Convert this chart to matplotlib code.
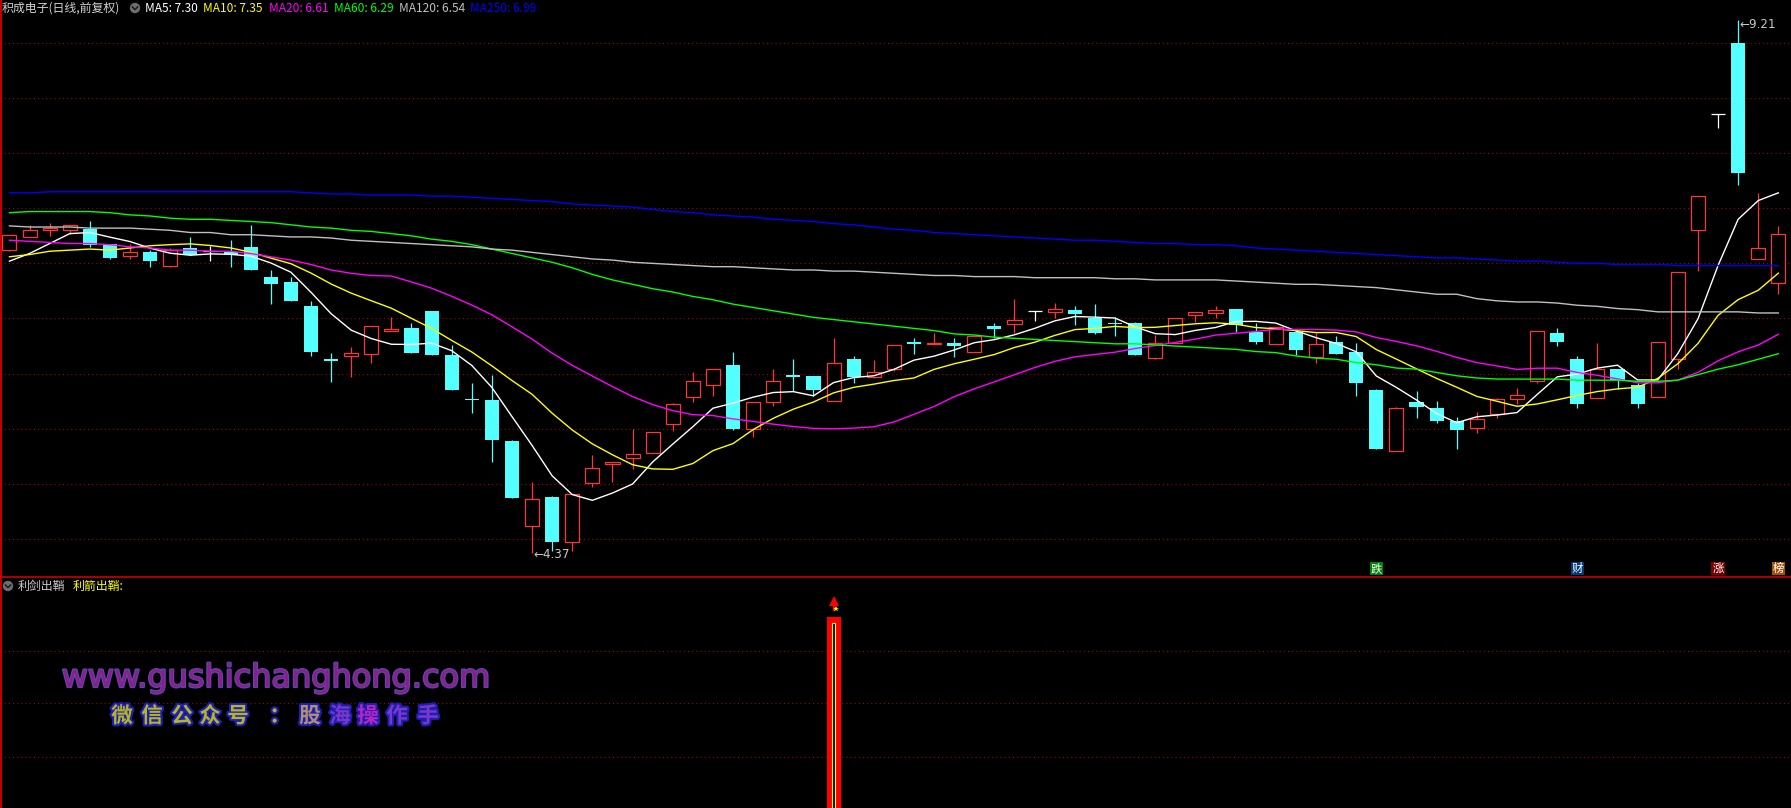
import numpy as np
import pandas as pd
import matplotlib
matplotlib.use("Agg")
import matplotlib.pyplot as plt
import matplotlib.patheffects as pe
from matplotlib.lines import Line2D
from matplotlib.patches import Circle
from matplotlib.transforms import IdentityTransform, blended_transform_factory

plt.rcParams['font.family'] = ['Noto Sans CJK SC', 'DejaVu Sans']

W, H = 1791, 808

# daily candles, oldest first
opens = [7.12, 7.24, 7.30, 7.30, 7.31, 7.18, 7.07, 7.10, 6.98, 7.14,
         7.11, 7.10, 7.15, 6.88, 6.83, 6.61, 6.13, 6.16, 6.18, 6.39,
         6.41, 6.57, 6.17, 5.77, 5.76, 5.39, 4.62, 4.88, 4.47, 5.01,
         5.18, 5.23, 5.28, 5.54, 5.79, 5.90, 6.08, 5.50, 5.74, 5.99,
         5.98, 5.75, 6.13, 5.97, 6.04, 6.28, 6.27, 6.28, 6.20, 6.43,
         6.45, 6.57, 6.56, 6.58, 6.50, 6.46, 6.46, 6.14, 6.28, 6.53,
         6.55, 6.59, 6.38, 6.27, 6.38, 6.15, 6.29, 6.20, 5.85, 5.30,
         5.74, 5.69, 5.57, 5.51, 5.63, 5.77, 5.93, 6.37, 6.13, 5.78,
         6.04, 5.90, 5.79, 6.13, 7.30, 8.36, 9.00, 7.04, 6.82]
highs = [7.26, 7.35, 7.37, 7.35, 7.38, 7.18, 7.18, 7.12, 7.14, 7.24,
         7.16, 7.21, 7.35, 6.94, 6.88, 6.66, 6.19, 6.24, 6.43, 6.51,
         6.46, 6.57, 6.26, 5.91, 5.99, 5.40, 5.02, 4.89, 4.91, 5.26,
         5.20, 5.50, 5.47, 5.73, 6.01, 6.04, 6.20, 5.74, 6.04, 6.13,
         5.98, 6.32, 6.16, 6.12, 6.26, 6.32, 6.37, 6.32, 6.34, 6.46,
         6.68, 6.57, 6.64, 6.61, 6.63, 6.51, 6.47, 6.35, 6.50, 6.56,
         6.61, 6.59, 6.46, 6.42, 6.40, 6.37, 6.34, 6.28, 5.86, 5.70,
         5.84, 5.75, 5.61, 5.65, 5.78, 5.87, 6.39, 6.41, 6.16, 6.28,
         6.04, 5.91, 6.29, 6.92, 7.61, 8.36, 9.21, 7.64, 7.34]
lows = [7.11, 7.24, 7.25, 7.27, 7.15, 7.04, 7.04, 6.97, 6.97, 7.08,
        7.02, 6.97, 6.94, 6.63, 6.66, 6.16, 5.92, 5.97, 6.10, 6.39,
        6.19, 6.17, 5.85, 5.64, 5.20, 4.87, 4.37, 4.39, 4.39, 4.97,
        5.02, 5.13, 5.28, 5.48, 5.74, 5.80, 5.49, 5.42, 5.71, 5.84,
        5.80, 5.75, 5.91, 5.96, 6.02, 6.18, 6.27, 6.15, 6.20, 6.32,
        6.37, 6.48, 6.50, 6.44, 6.36, 6.34, 6.17, 6.13, 6.28, 6.47,
        6.50, 6.38, 6.27, 6.27, 6.17, 6.10, 6.18, 5.80, 5.32, 5.30,
        5.60, 5.55, 5.32, 5.46, 5.60, 5.72, 5.91, 6.25, 5.69, 5.78,
        5.86, 5.69, 5.79, 6.04, 6.93, 8.23, 7.71, 7.04, 6.72]
closes = [7.26, 7.30, 7.32, 7.35, 7.17, 7.05, 7.10, 7.02, 7.12, 7.08,
          7.11, 7.08, 6.94, 6.81, 6.66, 6.20, 6.11, 6.19, 6.43, 6.40,
          6.19, 6.17, 5.85, 5.76, 5.40, 4.87, 4.86, 4.47, 4.91, 5.14,
          5.20, 5.27, 5.47, 5.72, 5.93, 6.04, 5.50, 5.74, 5.93, 5.97,
          5.85, 6.10, 5.97, 6.01, 6.26, 6.27, 6.28, 6.25, 6.34, 6.40,
          6.49, 6.57, 6.59, 6.54, 6.37, 6.45, 6.17, 6.28, 6.50, 6.56,
          6.58, 6.44, 6.29, 6.42, 6.21, 6.27, 6.18, 5.91, 5.32, 5.69,
          5.70, 5.57, 5.49, 5.59, 5.77, 5.81, 6.39, 6.29, 5.72, 6.04,
          5.94, 5.72, 6.29, 6.92, 7.61, 8.36, 7.82, 7.14, 7.27]

# moving averages before enough history is visible
ma5_head = [7.02, 7.09, 7.18, 7.27]
ma10_head = [7.06, 7.08, 7.11, 7.12, 7.13, 7.12, 7.14, 7.16, 7.17]
ma20_head = [7.21, 7.20, 7.19, 7.18, 7.18, 7.17, 7.15, 7.14, 7.12, 7.12,
             7.11, 7.11, 7.09, 7.06, 7.03, 6.99, 6.94, 6.91, 6.89]
ma60 = [7.46, 7.47, 7.47, 7.47, 7.47, 7.46, 7.44, 7.43, 7.41, 7.40,
        7.40, 7.39, 7.38, 7.37, 7.35, 7.33, 7.32, 7.30, 7.29, 7.27,
        7.25, 7.22, 7.20, 7.17, 7.13, 7.09, 7.05, 7.01, 6.96, 6.90,
        6.85, 6.81, 6.77, 6.74, 6.70, 6.67, 6.63, 6.60, 6.57, 6.54,
        6.51, 6.49, 6.47, 6.45, 6.43, 6.41, 6.39, 6.36, 6.35, 6.33,
        6.32, 6.31, 6.30, 6.29, 6.28, 6.27, 6.27, 6.26, 6.25, 6.24,
        6.23, 6.22, 6.20, 6.19, 6.16, 6.14, 6.13, 6.10, 6.08, 6.05,
        6.04, 6.01, 5.98, 5.96, 5.95, 5.95, 5.95, 5.95, 5.94, 5.94,
        5.94, 5.93, 5.93, 5.94, 5.99, 6.04, 6.08, 6.13, 6.18]
ma120 = [7.34, 7.33, 7.33, 7.33, 7.32, 7.32, 7.32, 7.31, 7.30, 7.28,
         7.28, 7.26, 7.26, 7.25, 7.24, 7.24, 7.23, 7.21, 7.20, 7.19,
         7.18, 7.17, 7.16, 7.15, 7.13, 7.12, 7.10, 7.08, 7.06, 7.04,
         7.03, 7.01, 7.00, 6.99, 6.98, 6.97, 6.97, 6.96, 6.95, 6.94,
         6.94, 6.93, 6.93, 6.92, 6.91, 6.90, 6.89, 6.89, 6.88, 6.88,
         6.88, 6.87, 6.87, 6.87, 6.87, 6.86, 6.86, 6.85, 6.85, 6.85,
         6.85, 6.84, 6.83, 6.82, 6.81, 6.81, 6.80, 6.79, 6.78, 6.76,
         6.74, 6.72, 6.72, 6.68, 6.66, 6.65, 6.65, 6.64, 6.62, 6.61,
         6.59, 6.58, 6.56, 6.56, 6.56, 6.56, 6.56, 6.55, 6.55]
ma250 = [7.64, 7.64, 7.65, 7.65, 7.65, 7.65, 7.65, 7.65, 7.65, 7.65,
         7.65, 7.65, 7.65, 7.65, 7.65, 7.64, 7.63, 7.63, 7.62, 7.62,
         7.62, 7.61, 7.61, 7.60, 7.59, 7.58, 7.57, 7.56, 7.54, 7.53,
         7.52, 7.51, 7.49, 7.47, 7.46, 7.44, 7.43, 7.42, 7.40, 7.39,
         7.38, 7.36, 7.35, 7.33, 7.31, 7.30, 7.28, 7.27, 7.26, 7.25,
         7.24, 7.23, 7.22, 7.21, 7.21, 7.20, 7.19, 7.18, 7.18, 7.17,
         7.17, 7.16, 7.14, 7.13, 7.12, 7.11, 7.10, 7.09, 7.08, 7.07,
         7.06, 7.05, 7.05, 7.04, 7.03, 7.02, 7.02, 7.01, 7.00, 7.00,
         6.99, 6.99, 6.99, 6.98, 6.98, 6.98, 6.98, 6.98, 6.98]

ma_labels = ["MA5: 7.30", "MA10: 7.35", "MA20: 6.61",
             "MA60: 6.29", "MA120: 6.54", "MA250: 6.99"]
ma_colors = ["#FFFFFF", "#FFFF00", "#FF00FF", "#00FF00", "#C0C0C0", "#0000FF"]

tag_days = [68, 78, 85, 88]
tag_texts = ["跌", "财", "涨", "榜"]
tag_colors = ["#008000", "#003C78", "#800000", "#A0520A"]

signal_days = [41]
signal_values = [0.827]

RED = "#FF3434"
CYAN = "#54FFFF"
GRID = "#B00000"

x = np.arange(len(closes))
o, h, l, c = (np.array(v) for v in (opens, highs, lows, closes))

closes_s = pd.Series(c)
ma5 = closes_s.rolling(5).mean().to_numpy()
ma5[:4] = ma5_head
ma10 = closes_s.rolling(10).mean().to_numpy()
ma10[:9] = ma10_head
ma20 = closes_s.rolling(20).mean().to_numpy()
ma20[:19] = ma20_head

fig = plt.figure(figsize=(W / 100, H / 100), dpi=100, facecolor="black")
ax1 = fig.add_axes([0, 231 / H, 1, 577 / H])
ax2 = fig.add_axes([0, 0, 1, 231 / H])
for ax in (ax1, ax2):
    ax.set_facecolor("black")
    ax.axis("off")
    ax.set_xlim(-0.47, 88.63)
ax1.set_ylim(4.154, 9.390)
ax2.set_ylim(0, 1)

for p in np.arange(4.5, 9.01, 0.5):
    ax1.axhline(p, color=GRID, lw=0.75, ls=(0, (1, 3)), zorder=1)
for f in [0.221, 0.455, 0.680]:
    ax2.axhline(f, color=GRID, lw=0.75, ls=(0, (1, 3)), zorder=1)

w = 0.7
lo = np.minimum(o, c)
hi = np.maximum(o, c)
body = np.maximum(hi - lo, 0.012)
up = c > o
down = c < o
flat = c == o

ax1.vlines(x[down], l[down], h[down], color=CYAN, lw=0.9, zorder=2)
ax1.bar(x[down], body[down], w, bottom=lo[down], color=CYAN, lw=0, zorder=3)

ax1.vlines(x[up], hi[up], h[up], color=RED, lw=0.9, zorder=2)
ax1.vlines(x[up], l[up], lo[up], color=RED, lw=0.9, zorder=2)
ax1.bar(x[up], hi[up] - lo[up], w, bottom=lo[up], facecolor="black",
        edgecolor=RED, lw=0.9, zorder=3)

ax1.vlines(x[flat], l[flat], h[flat], color="white", lw=0.9, zorder=2)
ax1.hlines(c[flat], x[flat] - w / 2, x[flat] + w / 2, color="white", lw=0.9, zorder=3)

for ma, col in zip([ma5, ma10, ma20, ma60, ma120, ma250], ma_colors):
    ax1.plot(x, ma, color=col, lw=1.0, zorder=4)

# extreme price labels
top = int(np.argmax(h))
bot = int(np.argmin(l))
ax1.text(top + 0.05, h[top] - 0.04, f"←{h[top]:.2f}", color="#C8C8C8",
         fontsize=8.6, family=["DejaVu Sans"], va="center", ha="left", zorder=5)
ax1.text(bot + 0.05, l[bot] - 0.01, f"←{l[bot]:.2f}", color="#C8C8C8",
         fontsize=8.6, family=["DejaVu Sans"], va="center", ha="left", zorder=5)

tr = blended_transform_factory(ax1.transData, ax1.transAxes)
for d, t, col in zip(tag_days, tag_texts, tag_colors):
    ax1.text(d, 0.0145, t, transform=tr, color="white", fontsize=8.2,
             ha="center", va="center", zorder=6,
             bbox=dict(boxstyle="square,pad=0.08", facecolor=col, edgecolor="none"))

# indicator panel
for d, v in zip(signal_days, signal_values):
    ax2.bar(d, v, 0.7, bottom=0, color="#FF0000", lw=0, zorder=3)
    ax2.bar(d, v - 0.025, 0.12, bottom=0, facecolor="black",
            edgecolor="#FFFF00", lw=0.8, zorder=4)
    ax2.plot(d, v + 0.07, marker="^", ms=7, color="#FF0000", mew=0, zorder=4)
    ax2.plot([d, d], [v + 0.03, v + 0.065], color="#FF0000", lw=1.6, zorder=4)
    ax2.plot(d + 0.1, v + 0.035, marker="*", ms=4, color="#FFFF00", mew=0, zorder=5)


def fx(px):
    return px / W


def fy(py):
    return 1 - py / H


# header of price panel
fig.text(fx(2), fy(8), "积成电子(日线,前复权)", color="#D0D0D0", fontsize=8.6,
         va="center", ha="left")
ma_x = [145, 203, 269, 334, 399, 470]
for t, col, px in zip(ma_labels, ma_colors, ma_x):
    fig.text(fx(px), fy(8), t, color=col, fontsize=8.6, va="center", ha="left")


def menu_icon(cx, cy):
    fig.add_artist(Circle((cx, H - cy), 5.2, transform=IdentityTransform(),
                          facecolor="#6E6E6E", edgecolor="none"))
    fig.add_artist(Line2D([cx - 2.6, cx, cx + 2.6],
                          [H - cy + 1.0, H - cy - 1.6, H - cy + 1.0],
                          transform=IdentityTransform(), color="#1A1A1A", lw=1.1))


menu_icon(135, 8)
menu_icon(8, 586)

fig.text(fx(18), fy(586), "利剑出鞘", color="#C8C8C8", fontsize=8.6,
         va="center", ha="left")
fig.text(fx(73), fy(586), "利箭出鞘:", color="#FFFF00", fontsize=8.6,
         va="center", ha="left")

# watermark
fig.text(fx(276), fy(687), "www.gushichanghong.com", color="#8C1E8C",
         fontsize=23, family=["DejaVu Sans"], ha="center", va="baseline",
         path_effects=[pe.withStroke(linewidth=1.6, foreground="#5A4AAE")])

wechat = [("微", "#B4B428"), ("信", "#B4B428"), ("公", "#B4B428"),
          ("众", "#B4B428"), ("号", "#B4B428"), ("：", "#B4B428"),
          ("股", "#B09070"), ("海", "#7A38C8"), ("操", "#B824C0"),
          ("作", "#7A38C8"), ("手", "#7A38C8")]
wechat_x = [122, 152, 182, 210, 238, 280, 310, 340, 368, 397, 428]
for (ch, col), px in zip(wechat, wechat_x):
    fig.text(fx(px), fy(716), ch, color=col, fontsize=15.5, fontweight="bold",
             ha="center", va="center",
             path_effects=[pe.withStroke(linewidth=3, foreground="#1E1EB4")])

# panel frame
fig.add_artist(Line2D([0.5, 0.5], [0, H], transform=IdentityTransform(),
                      color="#C80000", lw=1.4))
fig.add_artist(Line2D([0, W], [231, 231], transform=IdentityTransform(),
                      color="#C80000", lw=1.2))

fig.savefig("out.png", dpi=100, facecolor="black")
